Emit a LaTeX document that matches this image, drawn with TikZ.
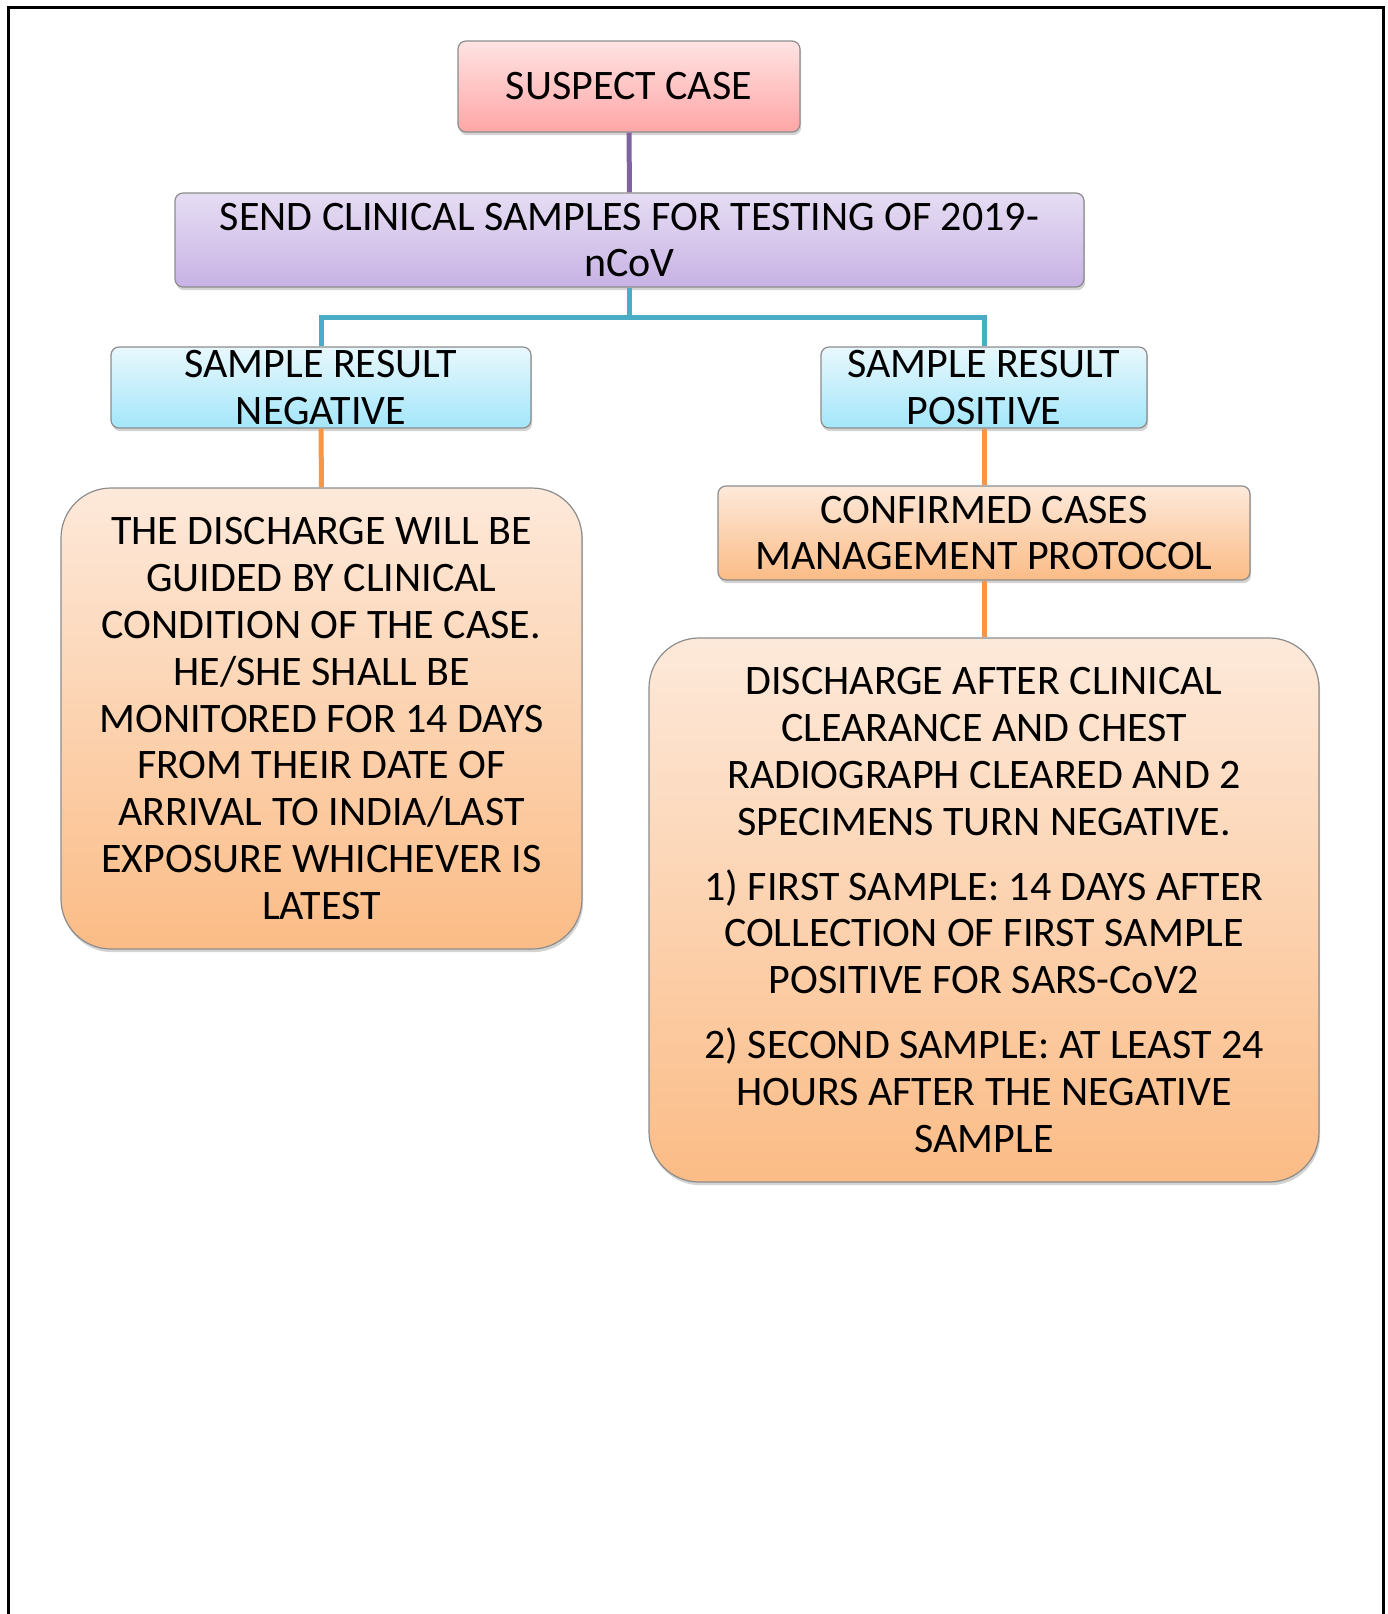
\documentclass[tikz,border=0pt]{standalone}
\usepackage{fontspec}
\setmainfont{Carlito}
\usepackage{tikz}
\usetikzlibrary{shadows}
\usetikzlibrary{calc}

\definecolor{pinktop}{HTML}{FFE3E3}
\definecolor{pinkbot}{HTML}{FFA6A6}
\definecolor{lilactop}{HTML}{E6DDF3}
\definecolor{lilacbot}{HTML}{C7B2E4}
\definecolor{skytop}{HTML}{E8F8FD}
\definecolor{skybot}{HTML}{A3E6FA}
\definecolor{peachtop}{HTML}{FDE9DA}
\definecolor{peachbot}{HTML}{FBBC86}
\definecolor{purpleline}{HTML}{8064A2}
\definecolor{tealline}{HTML}{4BACC6}
\definecolor{orangeline}{HTML}{F79646}

\tikzset{
  basebox/.style={draw=black!45,line width=.6pt,align=center,inner xsep=2pt,inner ysep=0pt,
    font=\fontsize{21}{23.4}\selectfont,
    drop shadow={shadow xshift=.6pt,shadow yshift=-1.6pt,opacity=.35}},
  pinkbox/.style={basebox,rounded corners=4pt,top color=pinktop,bottom color=pinkbot},
  lilacbox/.style={basebox,rounded corners=4pt,top color=lilactop,bottom color=lilacbot},
  skybox/.style={basebox,rounded corners=4pt,top color=skytop,bottom color=skybot},
  peachbox/.style={basebox,rounded corners=4pt,top color=peachtop,bottom color=peachbot},
  bigbox/.style={basebox,rounded corners=25pt,top color=peachtop,bottom color=peachbot},
  link/.style={line width=2.5pt}
}

\begin{document}
\begin{tikzpicture}[x=0.5pt,y=-0.5pt]
\useasboundingbox (0,0) rectangle (1388,1614);
\draw [line width=1.5pt] (8,1614) -- (8,7) -- (1383,7) -- (1383,1614);

\draw node [pinkbox,minimum width=171pt,minimum height=45.5pt] (SC) at (629,86.5) {SUSPECT CASE};
\draw node [lilacbox,minimum width=454.5pt,minimum height=47pt] (SEND) at (629.5,240) {SEND CLINICAL SAMPLES FOR TESTING OF 2019-\\nCoV};
\draw node [skybox,minimum width=210pt,minimum height=40.5pt] (NEG) at (321,387.5) {SAMPLE RESULT\\NEGATIVE};
\draw node [skybox,minimum width=163pt,minimum height=40.5pt] (POS) at (984,387.5) {SAMPLE RESULT\\POSITIVE};
\draw node [bigbox,minimum width=260.5pt,minimum height=230.5pt] (DNEG) at (321.5,718.5)
  {THE DISCHARGE WILL BE\\GUIDED BY CLINICAL\\CONDITION OF THE CASE.\\HE/SHE SHALL BE\\MONITORED FOR 14 DAYS\\FROM THEIR DATE OF\\ARRIVAL TO INDIA/LAST\\EXPOSURE WHICHEVER IS\\LATEST};
\draw node [peachbox,minimum width=266pt,minimum height=47pt] (CONF) at (984,533) {CONFIRMED CASES\\MANAGEMENT PROTOCOL};
\draw node [bigbox,minimum width=335pt,minimum height=272pt] (DPOS) at (984,910)
  {DISCHARGE AFTER CLINICAL\\CLEARANCE AND CHEST\\RADIOGRAPH CLEARED AND 2\\SPECIMENS TURN NEGATIVE.\\[9pt]
   1) FIRST SAMPLE: 14 DAYS AFTER\\COLLECTION OF FIRST SAMPLE\\POSITIVE FOR SARS-CoV2\\[9pt]
   2) SECOND SAMPLE: AT LEAST 24\\HOURS AFTER THE NEGATIVE\\SAMPLE};

\draw [link,purpleline] (SC.south) -- (SEND.north);
\draw [link,tealline] (SEND.south) -- ++(0,30) -| (NEG.north);
\draw [link,tealline] (SEND.south) -- ++(0,30) -| (POS.north);
\draw [link,orangeline] (NEG.south) -- (DNEG.north);
\draw [link,orangeline] (POS.south) -- (CONF.north);
\draw [link,orangeline] (CONF.south) -- (DPOS.north);
\end{tikzpicture}
\end{document}
